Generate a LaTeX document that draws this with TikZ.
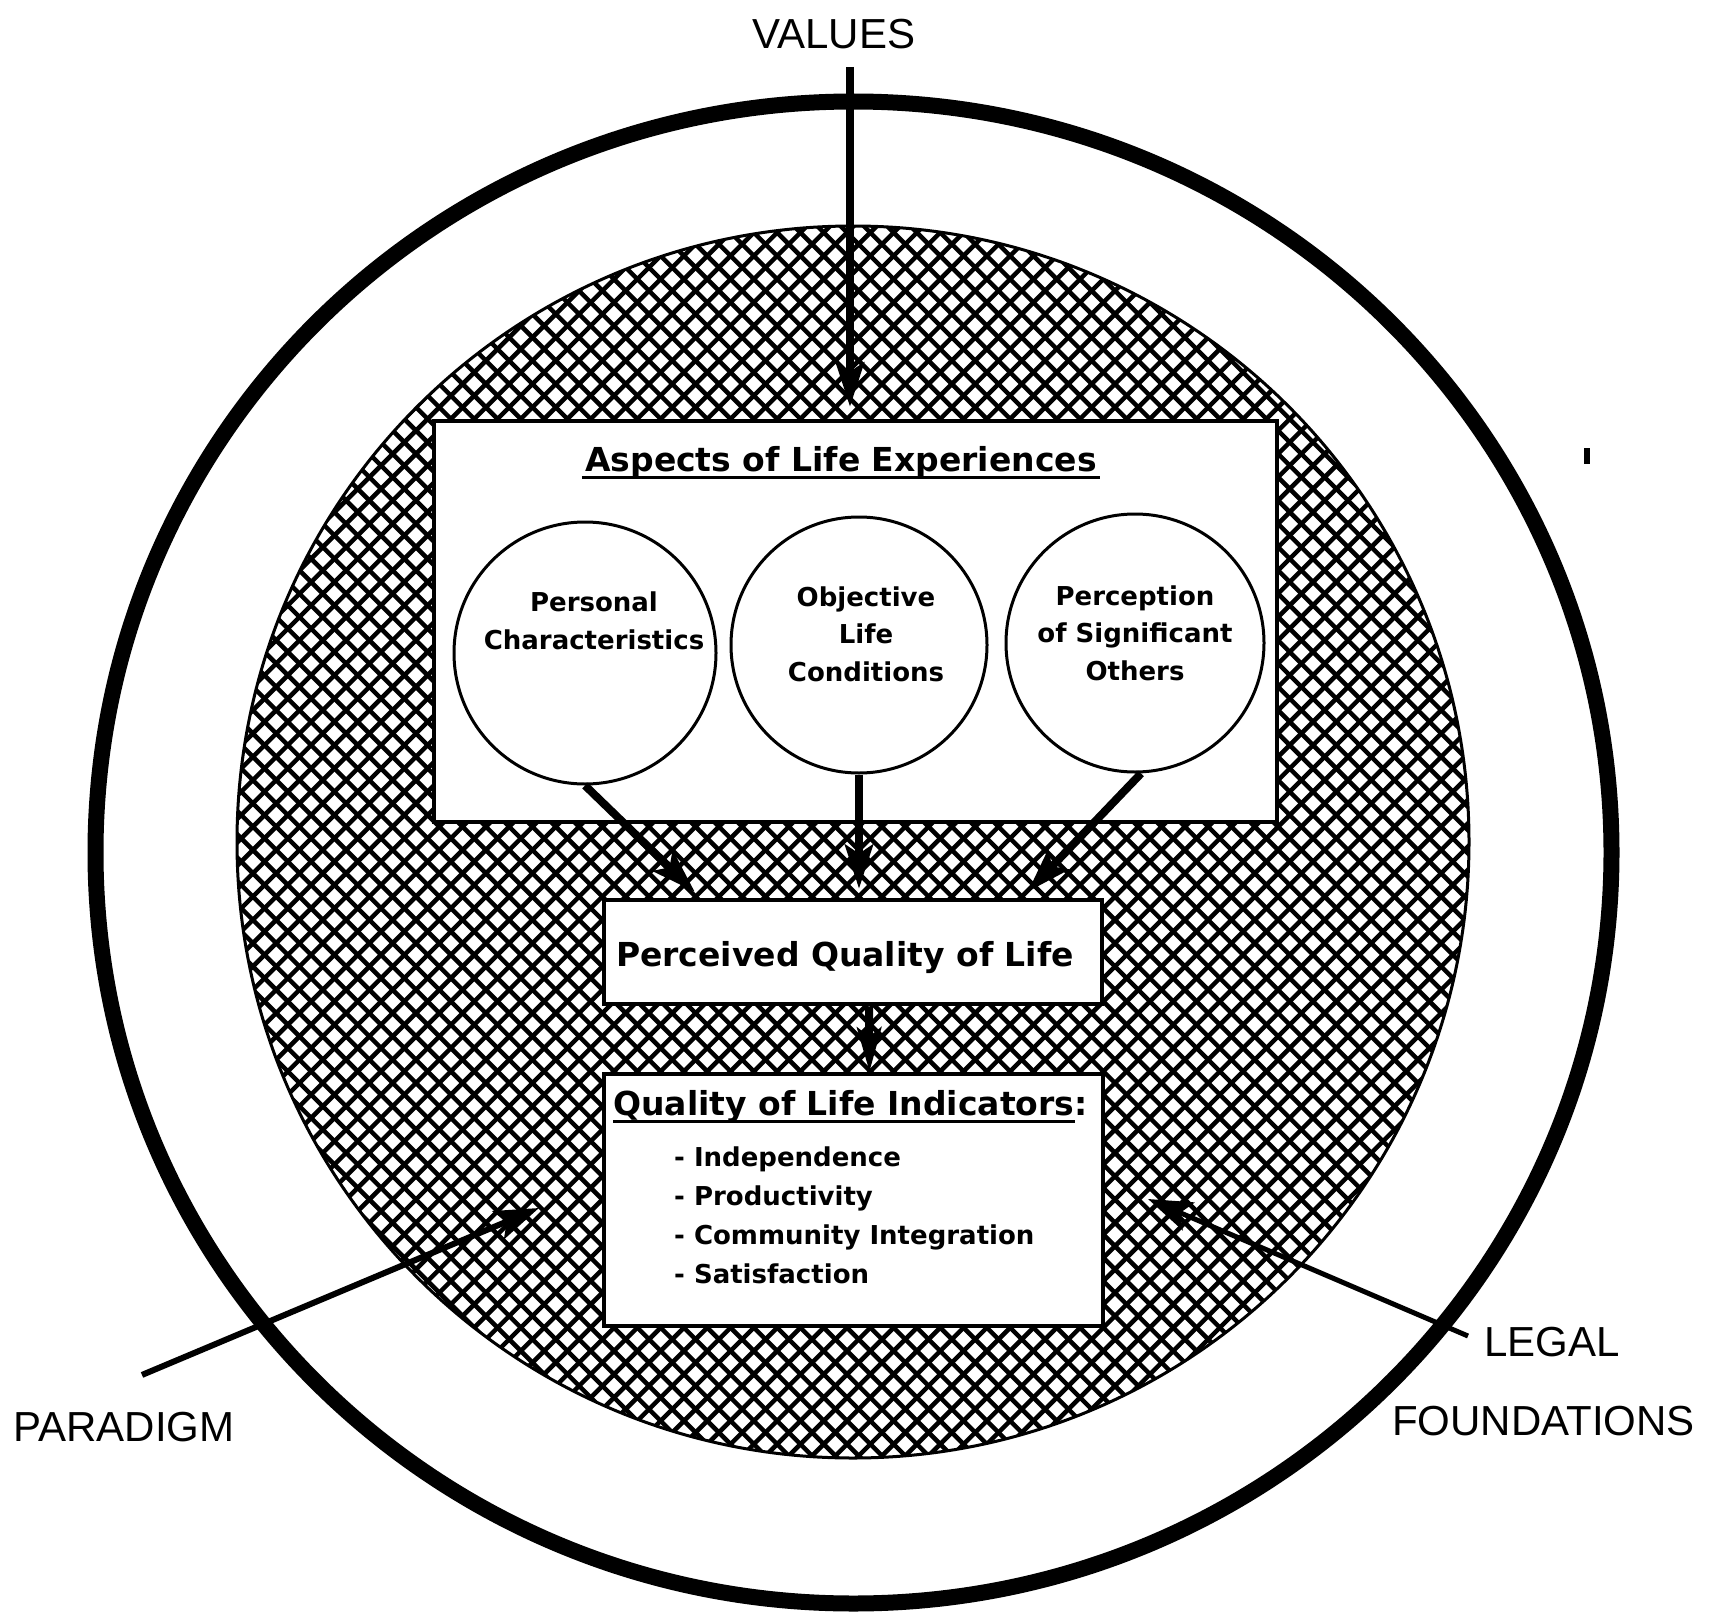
\documentclass[tikz,border=0pt]{standalone}
\usepackage{fontspec}
\setmainfont{Liberation Sans}
\newfontfamily\boxfont{DejaVu Sans}
\usetikzlibrary{arrows.meta,calc}
\begin{document}
\begin{tikzpicture}[x=1pt,y=-1pt,
  lab/.style={font=\fontsize{42}{46}\selectfont, inner sep=0pt},
  ttl/.style={font=\boxfont\bfseries\fontsize{33}{38}\selectfont, inner sep=0pt},
  sm/.style={font=\boxfont\bfseries\fontsize{26}{37.5}\selectfont, inner sep=0pt, align=center},
  boxx/.style={draw, line width=4.5pt, fill=white, inner sep=0pt},
  ring/.style={draw, circle, line width=3pt, fill=white, inner sep=0pt},
  hatch/.style={line width=4.5pt},
  conn/.style={line width=8pt, -{Stealth[length=44pt,width=28pt,inset=9pt]}},
  thinarr/.style={line width=6pt, -{Stealth[length=44pt,width=30pt,inset=9pt]}},
  uline/.style={line width=3pt}
]
\useasboundingbox (0,0) rectangle (1714,1616);
\fill[white] (0,0) rectangle (1714,1616);

% outer ring
\draw[line width=16pt] (853.5,852.5) ellipse[x radius=758pt, y radius=751pt];

% hatched disc
\begin{scope}
  \clip (853,842) circle[radius=616pt];
  \foreach \c in {-900,-876.7,...,920} \draw[hatch] ({\c+200},200) -- ({\c+1500},1500);
  \foreach \c in {800,823.3,...,2600} \draw[hatch] ({\c-200},200) -- ({\c-1500},1500);
\end{scope}
\draw[line width=3pt] (853,842) circle[radius=616pt];

% boxes
\node[boxx, minimum width=843pt, minimum height=401pt] (asp) at (855.5,621.5) {};
\node[boxx, minimum width=498pt, minimum height=104pt] (pq) at (853,952) {};
\node[boxx, minimum width=499pt, minimum height=252pt] (qi) at (853.5,1200) {};

% circles
\node[ring, minimum size=262pt] (c1) at (585,653) {};
\node[ring, minimum size=256pt] (c2) at (859,645) {};
\node[ring, minimum size=258pt] (c3) at (1135,643) {};

% texts
\node[ttl, anchor=base] (aspt) at (841,471) {Aspects of Life Experiences};
\draw[uline] ([yshift=-6pt,xshift=-3pt]aspt.base west) -- ([yshift=-6pt,xshift=3pt]aspt.base east);

\node[sm] (t1) at (594,621) {Personal\\Characteristics};
\node[sm] (t2) at (866,634) {Objective\\Life\\Conditions};
\node[sm] (t3) at (1135,633) {Perception\\of Significant\\Others};

\node[ttl, anchor=base] (pqt) at (845,966) {Perceived Quality of Life};

\node[ttl, anchor=base west] (qit) at (613,1115) {Quality of Life Indicators};
\node[ttl, anchor=base west] (qic) at (qit.base east) {:};
\draw[uline] ([yshift=-6pt]qit.base west) -- ([yshift=-6pt]qit.base east);

\node[sm, align=left, anchor=west, font=\boxfont\bfseries\fontsize{26}{39}\selectfont] (lst) at (674,1215)
  {- Independence\\- Productivity\\- Community Integration\\- Satisfaction};

% outer labels
\node[lab] (values) at (834,34) {VALUES};
\node[lab] (paradigm) at (124,1427) {PARADIGM};
\node[lab, anchor=west] (legal) at (1484,1342) {LEGAL};
\node[lab, anchor=west] (found) at (1392,1421) {FOUNDATIONS};

% connectors
\coordinate (vtop) at (850,67);
\draw[conn] (vtop) -- ($(vtop |- asp.north)+(0,-12)$);
\coordinate (partip) at (539,1208);
\coordinate (legtip) at (1148,1199);
\draw[thinarr] ([xshift=18pt,yshift=37pt]paradigm.north) -- (partip);
\draw[thinarr, line width=5pt] ([xshift=-16pt,yshift=6pt]legal.west) -- (legtip);

\draw[conn] (c1.south) -- ($(pq.north west)+(93,-6)$);
\draw[conn] (c2.south) -- ($(c2.south |- pq.north)+(0,-9)$);
\draw[conn] ([xshift=6pt]c3.south) -- ($(pq.north west)+(426,-6)$);
\draw[conn, -{Stealth[length=44pt,width=24pt,inset=9pt]}] ([xshift=16pt]pq.south) -- ([xshift=16pt]qi.north);

% speck
\fill (1584,448) rectangle (1590,464);
\end{tikzpicture}
\end{document}
